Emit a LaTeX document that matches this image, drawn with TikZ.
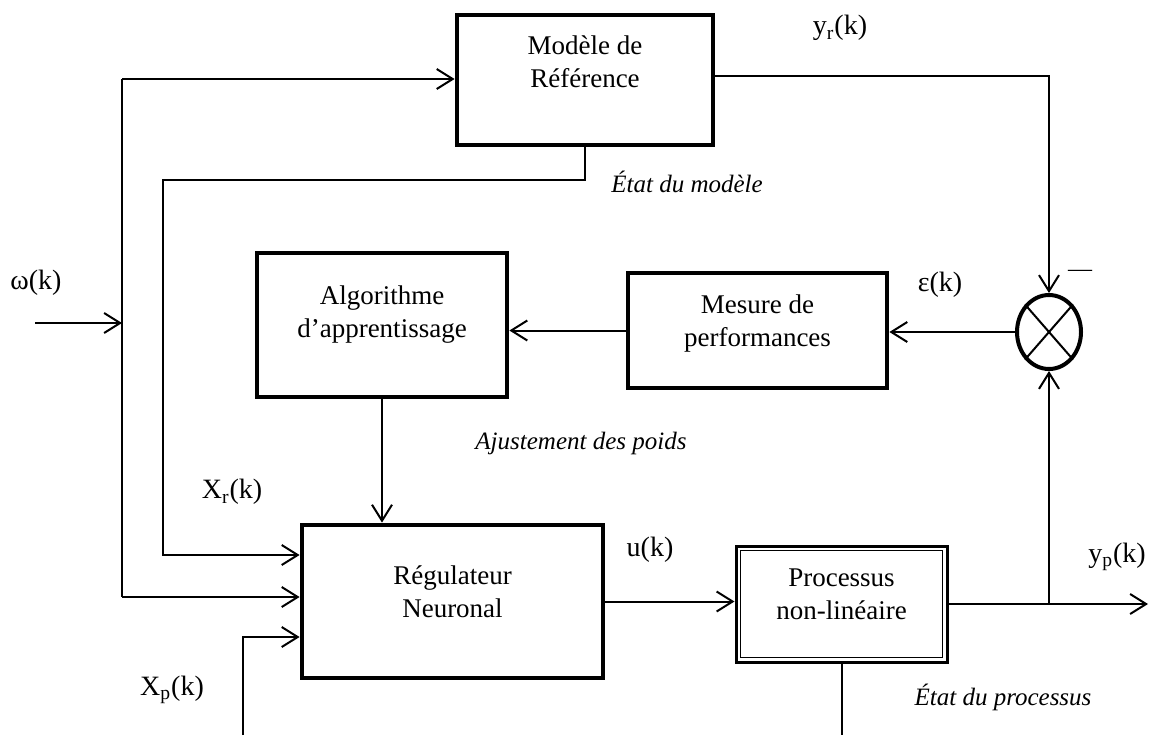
\documentclass[tikz,border=0pt]{standalone}
\usepackage{fontspec}
\setmainfont{Liberation Serif}
\usetikzlibrary{arrows.meta,shapes.geometric}

\tikzset{
  block/.style={draw, line width=2.4pt, rectangle, inner sep=0pt},
  boxtext/.style={align=center, inner sep=0pt, font=\fontsize{13.5}{16.5}\selectfont},
  sig/.style={inner sep=0pt, font=\fontsize{14}{16}\selectfont},
  note/.style={inner sep=0pt, font=\fontsize{12.5}{15}\selectfont\itshape},
  wire/.style={line width=1pt},
  arr/.style={wire, -{Straight Barb[length=8pt,width=10pt,line width=1pt]}},
}

\begin{document}
\begin{tikzpicture}[x=0.5pt, y=-0.5pt]
\useasboundingbox (0,0) rectangle (1150,735);

% blocks
\node[block, minimum width=128pt, minimum height=65pt] (ref) at (585,80) {};
\node[boxtext] (reftxt) at (585,61.5) {Modèle de\\Référence};

\node[block, minimum width=125pt, minimum height=72pt] (algo) at (382,325) {};
\node[boxtext] (algotxt) at (382,315) {Algorithme\\d’apprentissage};

\node[block, minimum width=129.5pt, minimum height=57.5pt] (mes) at (757.5,330.5) {};
\node[boxtext] (mestxt) at (757.5,323) {Mesure de\\performances};

\node[block, minimum width=150.5pt, minimum height=76.5pt] (reg) at (452.5,601.5) {};
\node[boxtext] (regtxt) at (452.5,592) {Régulateur\\Neuronal};

% double-framed plant block
\node[draw, line width=1.5pt, rectangle, inner sep=0pt,
      minimum width=105.5pt, minimum height=58pt] (proc) at (841.5,604) {};
\draw[line width=0.7pt] ([shift={(6,6)}]proc.north west) rectangle ([shift={(-6,-6)}]proc.south east);
\node[boxtext] (proctxt) at (841.5,594) {Processus\\non-linéaire};

% summing junction
\node[draw, ellipse, line width=2pt, inner sep=0pt,
      minimum width=32pt, minimum height=37pt] (sum) at (1049,332) {};
\draw[wire] (sum.north west) -- (sum.south east);
\draw[wire] (sum.north east) -- (sum.south west);

% coordinates of the wiring
\coordinate (win) at (35,323);
\coordinate (wjoin) at (122,323);
\coordinate (wtop) at (122,79);
\coordinate (wbot) at (122,597);
\coordinate (yr) at (1049,76);
\coordinate (xr1) at (163,180);
\coordinate (xr2) at (163,555);
\coordinate (xp0) at (243,735);
\coordinate (xp1) at (243,637);
\coordinate (br) at (1049,604);
\coordinate (yout) at (1148,604);

% reference input bus
\draw[arr] (win) -- (wjoin);
\draw[wire] (wtop) -- (wbot);
\draw[arr] (wtop) -- (wtop -| ref.west);
\draw[arr] (wbot) -- (wbot -| reg.west);

% model state to controller
\draw[arr] (ref.south) |- (xr1) -- (xr2) -- (xr2 -| reg.west);

% process state to controller
\draw[arr] (xp0) -- (xp1) -- (xp1 -| reg.west);

% reference model output to comparator
\draw[arr] (ref.east |- yr) -- (yr) -- (sum.north);

% error path and learning
\draw[arr] (sum.west) -- (sum.west -| mes.east);
\draw[arr] (mes.west) -- (mes.west -| algo.east);
\draw[arr] (algo.south) -- (algo.south |- reg.north);

% control and plant output
\draw[arr] (reg.east) -- (reg.east -| proc.west);
\draw[arr] (proc.east) -- (yout);
\draw[arr] (br) -- (sum.south);
\draw[wire] (proc.south) -- (proc.south |- xp0);

% signal labels
\node[sig] (lyr) at (840,28) {y\textsubscript{r}(k)};
\node[sig] (leps) at (940,285) {ε(k)};
\node[inner sep=0pt, font=\fontsize{12}{14}\selectfont] (lminus) at (1080,273) {\textemdash};
\node[sig] (lw) at (36,283) {ω(k)};
\node[sig] (lxr) at (232,492) {X\textsubscript{r}(k)};
\node[sig] (lxp) at (172,690) {X\textsubscript{p}(k)};
\node[sig] (lu) at (650,550) {u(k)};
\node[sig] (lyp) at (1117,557) {y\textsubscript{p}(k)};

% annotations
\node[note] (nmod) at (687,182) {État du modèle};
\node[note] (najust) at (581,443) {Ajustement des poids};
\node[note] (nproc) at (1003,697) {État du processus};
\end{tikzpicture}
\end{document}
